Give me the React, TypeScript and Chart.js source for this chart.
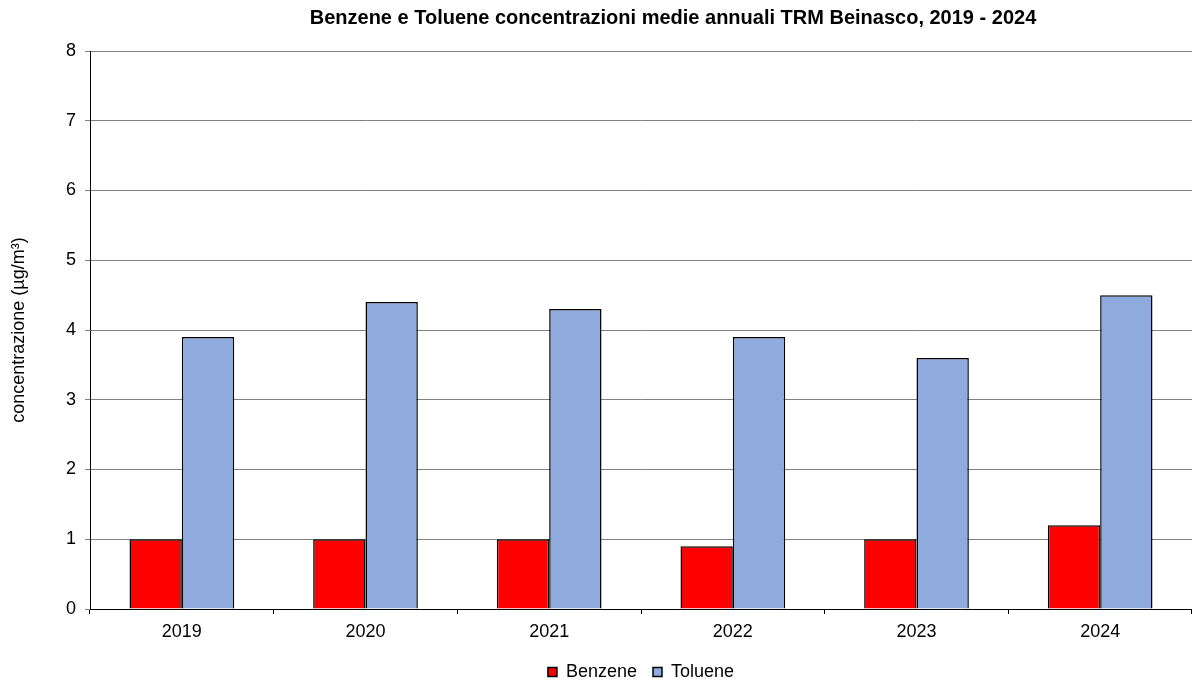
import React, { useEffect, useRef } from "react";
import { Chart, registerables } from "chart.js";

Chart.register(...registerables);

const years = ["2019", "2020", "2021", "2022", "2023", "2024"];
const benzene = [1.0, 1.0, 1.0, 0.9, 1.0, 1.2];
const toluene = [3.9, 4.4, 4.3, 3.9, 3.6, 4.5];
const titleText = "Benzene e Toluene concentrazioni medie annuali TRM Beinasco, 2019 - 2024";
const yTitle = "concentrazione (µg/m³)";

const FONT = "'Liberation Sans', Arial, sans-serif";

const titlePlugin = {
  id: "customTitle",
  afterDraw(chart: any) {
    const ctx = chart.ctx;
    ctx.save();
    ctx.font = `bold 20px ${FONT}`;
    ctx.fillStyle = "#000";
    ctx.textAlign = "center";
    ctx.textBaseline = "middle";
    ctx.fillText(titleText, 673, 18);
    ctx.restore();
  },
};

export default function App() {
  const ref = useRef<HTMLCanvasElement | null>(null);
  useEffect(() => {
    document.body.style.margin = "0";
    if (!ref.current) return;
    const chart = new Chart(ref.current, {
      type: "bar",
      data: {
        labels: years,
        datasets: [
          {
            label: "Benzene",
            data: benzene,
            backgroundColor: "#FF0000",
            borderColor: "#000000",
            borderWidth: 1.5,
            categoryPercentage: 0.57,
            barPercentage: 1.0,
          },
          {
            label: "Toluene",
            data: toluene,
            backgroundColor: "#8FAADC",
            borderColor: "#000000",
            borderWidth: 1.5,
            categoryPercentage: 0.57,
            barPercentage: 1.0,
          },
        ],
      },
      plugins: [titlePlugin],
      options: {
        animation: false,
        responsive: false,
        maintainAspectRatio: false,
        layout: { padding: { left: 0, right: 0, top: 51, bottom: -7 } },
        plugins: {
          title: { display: false },
          legend: {
            position: "bottom",
            fullSize: false,
            labels: {
              color: "#000",
              font: { family: FONT, size: 18 },
              boxWidth: 9,
              boxHeight: 9,
              padding: 16,
              useBorderRadius: false,
            },
          },
          tooltip: { enabled: false },
        },
        scales: {
          x: {
            offset: true,
            afterFit: (scale: any) => {
              scale.height = 38;
            },
            grid: {
              offset: true,
              drawOnChartArea: false,
              drawTicks: true,
              tickLength: 5,
              color: "#000",
            },
            border: { color: "#000", width: 1 },
            ticks: {
              color: "#000",
              font: { family: FONT, size: 18 },
              padding: 7,
              maxRotation: 0,
            },
          },
          y: {
            min: 0,
            max: 8,
            afterFit: (scale: any) => {
              scale.width = 90;
            },
            ticks: {
              stepSize: 1,
              color: "#000",
              font: { family: FONT, size: 18 },
              padding: 9,
            },
            grid: { color: "#808080", lineWidth: 1, tickLength: 5 },
            border: { color: "#000", width: 1 },
            title: {
              display: true,
              text: yTitle,
              color: "#000",
              font: { family: FONT, size: 18 },
              padding: { top: 8, bottom: 0 },
            },
          },
        },
      },
    });
    return () => chart.destroy();
  }, []);
  return (
    <div style={{ position: "absolute", left: 0, top: 0, width: 1192, height: 684 }}>
      <canvas ref={ref} width={1192} height={684} style={{ width: 1192, height: 684 }} />
    </div>
  );
}
